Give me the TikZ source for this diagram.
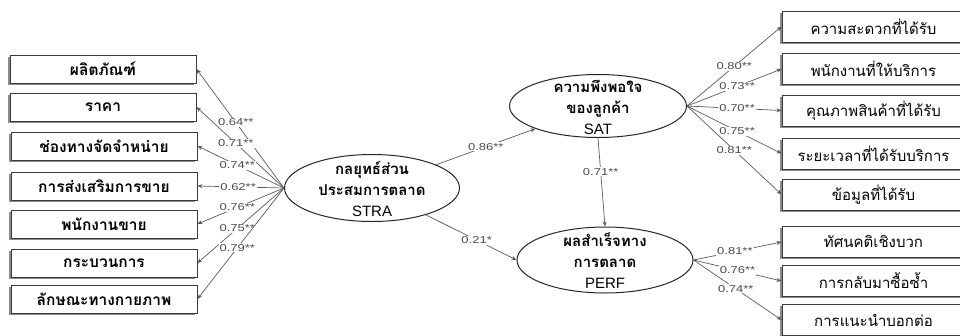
\documentclass[tikz,border=0pt]{standalone}
\usepackage{fontspec}
\setmainfont{Liberation Sans}
\newfontfamily\thaifont[Script=Thai]{Loma}
\newfontfamily\estfont[FakeStretch=1.3]{Liberation Sans}
\usepackage{tikz}
\usetikzlibrary{shapes.geometric, arrows.meta, shadows}
\definecolor{sem-edge}{HTML}{3A3A3A}
\definecolor{sem-line}{HTML}{5A5A5A}
\definecolor{sem-est}{HTML}{4A4A4A}
\pgfdeclareradialshading{rim}{\pgfpoint{0bp}{0bp}}{color(0bp)=(white); color(34bp)=(white); color(50bp)=(black!45); color(60bp)=(black!45)}

\tikzset{
    indbox/.style={draw=sem-edge, line width=0.9pt, fill=white, inner sep=0pt,
        minimum height=28pt, minimum width=186pt,
        general shadow={fill=black!45, shadow xshift=-2pt, shadow yshift=-1.5pt}},
    leftbox/.style={indbox, font=\thaifont\bfseries\fontsize{15.5}{17}\selectfont},
    rightbox/.style={indbox, minimum width=183pt, minimum height=31pt,
        font=\thaifont\fontsize{15}{17}\selectfont},
    latent/.style={ellipse, draw=black!85, line width=1pt, shading=rim, inner sep=0pt},
    latenttext/.style={align=center, inner sep=0pt, font=\thaifont\fontsize{15}{21}\selectfont},
    path/.style={draw=sem-line, line width=0.7pt, -{Stealth[length=5pt, width=4pt, fill=black]}},
    est/.style={fill=white, inner sep=1pt, text=sem-est, font=\estfont\fontsize{10}{10}\selectfont}
}

\begin{document}
\begin{tikzpicture}[x=1pt, y=-1pt]
    \useasboundingbox (0,0) rectangle (960,335);

    % latent variables
    \node (stra) [latent, minimum width=175pt, minimum height=67pt] at (372,188) {};
    \node (stra-txt) [latenttext] at ([yshift=-1pt]stra.center) {\textbf{กลยุทธ์ส่วน}\\\textbf{ประสมการตลาด}\\{\rmfamily STRA}};
    \node (sat) [latent, minimum width=177pt, minimum height=63pt] at (598,106) {};
    \node (sat-txt) [latenttext] at ([yshift=-1pt]sat.center) {\textbf{ความพึงพอใจ}\\\textbf{ของลูกค้า}\\{\rmfamily SAT}};
    \node (perf) [latent, minimum width=176pt, minimum height=66pt] at (605,260) {};
    \node (perf-txt) [latenttext] at ([yshift=-1pt]perf.center) {\textbf{ผลสำเร็จทาง}\\\textbf{การตลาด}\\{\rmfamily PERF}};

    % marketing mix indicators
    \node (prod)  [leftbox] at (103,69)  {ผลิตภัณฑ์};
    \node (price) [leftbox] at (103,107) {ราคา};
    \node (place) [leftbox] at (104,146) {ช่องทางจัดจำหน่าย};
    \node (promo) [leftbox] at (104,186) {การส่งเสริมการขาย};
    \node (staff) [leftbox] at (104,224) {พนักงานขาย};
    \node (proc)  [leftbox] at (104,263) {กระบวนการ};
    \node (phys)  [leftbox] at (104,299) {ลักษณะทางกายภาพ};

    % satisfaction indicators
    \node (conv)  [rightbox] at (873.5,26.5)  {ความสะดวกที่ได้รับ};
    \node (serv)  [rightbox] at (873.5,69)    {พนักงานที่ให้บริการ};
    \node (qual)  [rightbox] at (873.5,110.5) {คุณภาพสินค้าที่ได้รับ};
    \node (time)  [rightbox] at (873.5,153.5) {ระยะเวลาที่ได้รับบริการ};
    \node (info)  [rightbox] at (873.5,194.5) {ข้อมูลที่ได้รับ};

    % performance indicators
    \node (attit) [rightbox] at (873.5,242) {ทัศนคติเชิงบวก};
    \node (rebuy) [rightbox] at (873.5,281) {การกลับมาซื้อซ้ำ};
    \node (refer) [rightbox] at (873.5,320) {การแนะนำบอกต่อ};

    % loadings
    \draw[path] (stra.west) -- node[est, pos=0.55] {0.64**} (prod.east);
    \draw[path] (stra.west) -- node[est, pos=0.55] {0.71**} (price.east);
    \draw[path] (stra.west) -- node[est, pos=0.54] {0.74**} (place.east);
    \draw[path] (stra.west) -- node[est, pos=0.53] {0.62**} (promo.east);
    \draw[path] (stra.west) -- node[est, pos=0.54] {0.76**} (staff.east);
    \draw[path] (stra.west) -- node[est, pos=0.54] {0.75**} (proc.east);
    \draw[path] (stra.west) -- node[est, pos=0.54] {0.79**} (phys.east);

    \draw[path] (sat.east) -- node[est, pos=0.5] {0.80**} (conv.west);
    \draw[path] (sat.east) -- node[est, pos=0.53] {0.73**} (serv.west);
    \draw[path] (sat.east) -- node[est, pos=0.53] {0.70**} (qual.west);
    \draw[path] (sat.east) -- node[est, pos=0.53] {0.75**} (time.west);
    \draw[path] (sat.east) -- node[est, pos=0.5] {0.81**} (info.west);

    \draw[path] (perf.east) -- node[est, pos=0.47] {0.81**} (attit.west);
    \draw[path] (perf.east) -- node[est, pos=0.5] {0.76**} (rebuy.west);
    \draw[path] (perf.east) -- node[est, pos=0.48] {0.74**} (refer.west);

    % structural paths
    \draw[path] (stra) -- node[est, pos=0.5] {0.86**} (sat);
    \draw[path] (stra) -- node[est, pos=0.56] {0.21*} (perf.west);
    \draw[path] (sat.south) -- node[est, pos=0.38] {0.71**} (perf.north);
\end{tikzpicture}
\end{document}
